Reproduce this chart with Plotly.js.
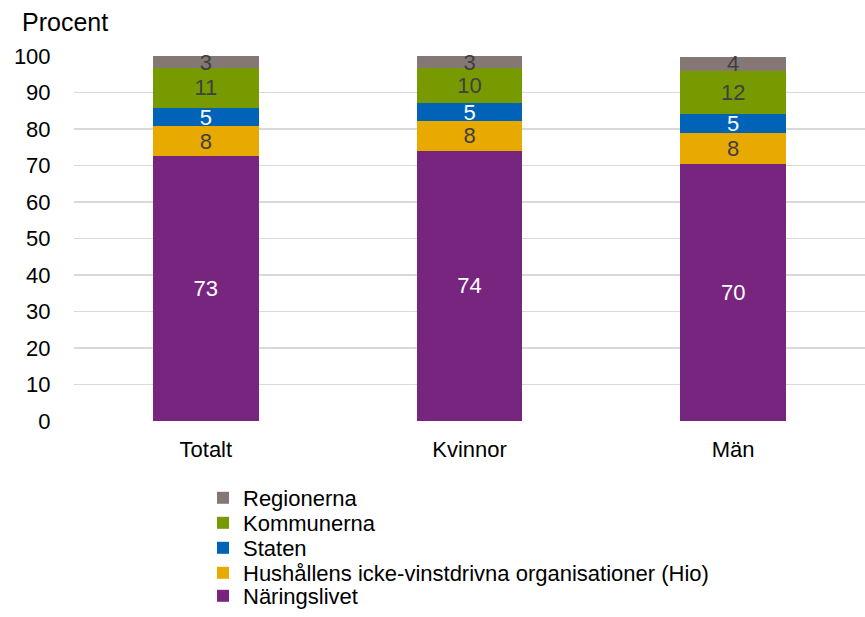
<!DOCTYPE html>
<html>
<head>
<meta charset="utf-8">
<script src="https://cdn.plot.ly/plotly-3.0.1.min.js"></script>
<style>body{margin:0;background:#fff}#chart{width:865px;height:617px}</style>
</head>
<body>
<div id="chart"></div>
<script>
const categories = ["Totalt", "Kvinnor", "Män"];
const naringslivet = [72.6, 74.0, 70.4];
const hio = [8.1, 8.2, 8.4];
const staten = [5.1, 4.8, 5.4];
const kommunerna = [10.9, 9.7, 11.8];
const regionerna = [3.3, 3.3, 3.8];

const seriesNames = ["Näringslivet", "Hushållens icke-vinstdrivna organisationer (Hio)", "Staten", "Kommunerna", "Regionerna"];
const seriesValues = [naringslivet, hio, staten, kommunerna, regionerna];
const seriesColors = ["#77257f", "#e8a900", "#0063b8", "#779a00", "#857874"];
const textColors = ["#ffffff", "#404040", "#ffffff", "#404040", "#404040"];

const FONT = "Liberation Sans, Arial, sans-serif";
const W = 865, H = 617;
const M = {l: 74, r: 0, t: 56, b: 195};
const legendIds = ["legend5", "legend4", "legend3", "legend2", "legend"];
const legendRowY = [598, 573, 548, 523, 498];

const traces = seriesNames.map((n, i) => ({
  type: "bar",
  name: n,
  x: categories,
  y: seriesValues[i],
  legend: legendIds[i],
  marker: {color: seriesColors[i]},
  texttemplate: "%{y:.0f}",
  textposition: "inside",
  insidetextanchor: "middle",
  textangle: 0,
  constraintext: "none",
  cliponaxis: false,
  textfont: {family: FONT, size: 22, color: textColors[i]},
  hoverinfo: "none"
}));

const plotH = H - M.t - M.b, plotW = W - M.l - M.r;
const layout = {
  width: W, height: H,
  margin: M,
  barmode: "stack",
  bargap: 0.6,
  paper_bgcolor: "#fff", plot_bgcolor: "#fff",
  font: {family: FONT, size: 22, color: "#000"},
  xaxis: {showgrid: false, showline: false, ticks: "outside", ticklen: 9, tickcolor: "rgba(0,0,0,0)", tickfont: {size: 22}},
  yaxis: {range: [0, 100], dtick: 10, showgrid: true, gridcolor: "#d9d9d9", gridwidth: 1.5,
          zeroline: false, showline: false, ticks: "outside", ticklen: 18, tickcolor: "rgba(0,0,0,0)", tickfont: {size: 22}},
  showlegend: true,
  annotations: [{text: "Procent", xref: "paper", yref: "paper", x: -0.068, y: 1.05, xanchor: "left", yanchor: "bottom",
                 showarrow: false, font: {size: 25}}]
};
legendIds.forEach((id, i) => {
  layout[id] = {xref: "paper", yref: "paper", x: (203 - M.l) / plotW, xanchor: "left",
                y: (H - M.b - legendRowY[i]) / plotH, yanchor: "middle", font: {size: 22},
                bgcolor: "rgba(0,0,0,0)", itemclick: false};
});
Plotly.newPlot("chart", traces, layout, {staticPlot: true});
</script>
</body>
</html>
